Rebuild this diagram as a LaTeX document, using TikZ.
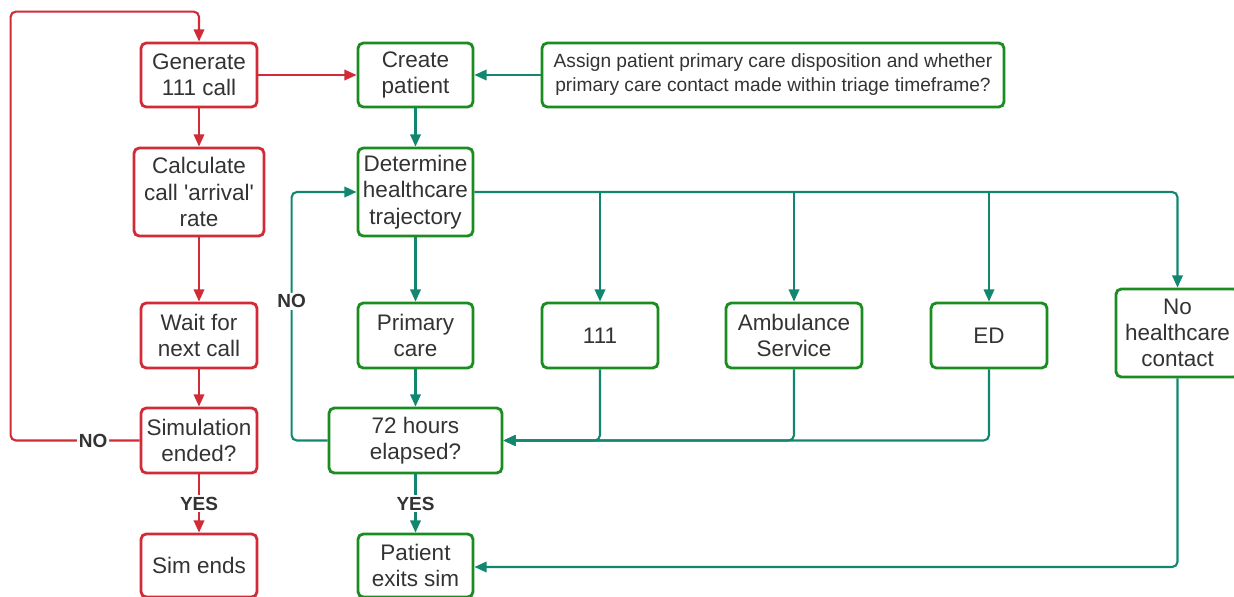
\documentclass[tikz,border=0pt]{standalone}
\usepackage{fontspec}
\setmainfont{Liberation Sans}
\usepackage{xcolor}
\usetikzlibrary{arrows.meta, positioning, calc}

\definecolor{simred}{RGB}{208,43,55}
\definecolor{boxgreen}{RGB}{26,140,32}
\definecolor{flowteal}{RGB}{18,135,112}
\definecolor{txtgray}{RGB}{51,51,51}

\begin{document}
\begin{tikzpicture}[x=0.02cm, y=-0.02cm]
  \tikzset{
    basebox/.style={draw, line width=1.6pt, rounded corners=3pt, align=center,
      text=txtgray, font=\fontsize{12.8}{15}\selectfont, inner sep=2pt},
    redbox/.style={basebox, draw=simred},
    greenbox/.style={basebox, draw=boxgreen},
    redflow/.style={draw=simred, line width=1.2pt, rounded corners=3pt,
      -{Triangle[length=7pt, width=6pt]}},
    tealflow/.style={draw=flowteal, line width=1.2pt, rounded corners=3pt,
      -{Triangle[length=7pt, width=6pt]}},
    answer/.style={fill=white, text=txtgray, inner sep=1pt,
      font=\fontsize{10.8}{12}\selectfont\bfseries}
  }

  \useasboundingbox (0,0) rectangle (1234,596);

  % Simulation control loop (red)
  \node[redbox, minimum width=116*0.02cm, minimum height=64*0.02cm] (gen) at (199,75) {Generate\\111 call};
  \node[redbox, minimum width=130*0.02cm, minimum height=88*0.02cm] (calc) at (199,192) {Calculate\\call \textquotesingle arrival\textquotesingle\\rate};
  \node[redbox, minimum width=116*0.02cm, minimum height=65*0.02cm] (wait) at (199,335.5) {Wait for\\next call};
  \node[redbox, minimum width=116*0.02cm, minimum height=65*0.02cm] (simend) at (199,440.5) {Simulation\\ended?};
  \node[redbox, minimum width=116*0.02cm, minimum height=63*0.02cm] (simstop) at (199,565.5) {Sim ends};

  % Patient pathway (green)
  \node[greenbox, minimum width=115*0.02cm, minimum height=64*0.02cm] (create) at (415.5,75) {Create\\patient};
  \node[greenbox, minimum width=462*0.02cm, minimum height=64*0.02cm,
    font=\fontsize{10.9}{13.7}\selectfont] (assign) at (773,75)
    {Assign patient primary care disposition and whether\\primary care contact made within triage timeframe?};
  \node[greenbox, minimum width=115*0.02cm, minimum height=88*0.02cm] (determine) at (415.5,192) {Determine\\healthcare\\trajectory};

  % Trajectory options
  \node[greenbox, minimum width=115*0.02cm, minimum height=65*0.02cm] (primary) at (415.5,335.5) {Primary\\care};
  \node[greenbox, minimum width=116*0.02cm, minimum height=65*0.02cm] (nhs111) at (600,335.5) {111};
  \node[greenbox, minimum width=136*0.02cm, minimum height=65*0.02cm] (ambulance) at (794,335.5) {Ambulance\\Service};
  \node[greenbox, minimum width=116*0.02cm, minimum height=65*0.02cm] (ed) at (989,335.5) {ED};
  \node[greenbox, minimum width=123*0.02cm, minimum height=88*0.02cm] (nocontact) at (1177.5,333) {No\\healthcare\\contact};

  \node[greenbox, minimum width=173*0.02cm, minimum height=65*0.02cm] (elapsed) at (415.5,440.5) {72 hours\\elapsed?};
  \node[greenbox, minimum width=115*0.02cm, minimum height=63*0.02cm] (exits) at (415.5,565.5) {Patient\\exits sim};

  % Red flow
  \draw[redflow] (gen) -- (calc);
  \draw[redflow] (calc) -- (wait);
  \draw[redflow] (wait) -- (simend);
  \draw[redflow] (simend) -- node[answer] {YES} (simstop);
  \draw[redflow] (simend.west) -- node[answer, pos=0.36] {NO} ++(-129,0)
    |- ($(gen.north)+(0,-30)$) -- (gen.north);
  \draw[redflow] (gen) -- (create);

  % Teal flow
  \draw[tealflow] (assign) -- (create);
  \draw[tealflow] (create) -- (determine);
  \draw[tealflow] (determine) -- (primary);
  \draw[tealflow] (determine.east) -| (nocontact.north);
  \draw[tealflow] (nhs111.north |- determine.east) -- (nhs111.north);
  \draw[tealflow] (ambulance.north |- determine.east) -- (ambulance.north);
  \draw[tealflow] (ed.north |- determine.east) -- (ed.north);

  \draw[tealflow] (primary) -- (elapsed);
  \draw[tealflow] (nhs111.south) |- (elapsed.east);
  \draw[tealflow] (ambulance.south) |- (elapsed.east);
  \draw[tealflow] (ed.south) |- (elapsed.east);

  \draw[tealflow] (elapsed.west) -- ++(-36,0) |- node[answer, pos=0.28] {NO} (determine.west);
  \draw[tealflow] (elapsed) -- node[answer] {YES} (exits);
  \draw[tealflow] (nocontact.south) |- ($(exits.east)+(0,1.5)$);
\end{tikzpicture}
\end{document}
